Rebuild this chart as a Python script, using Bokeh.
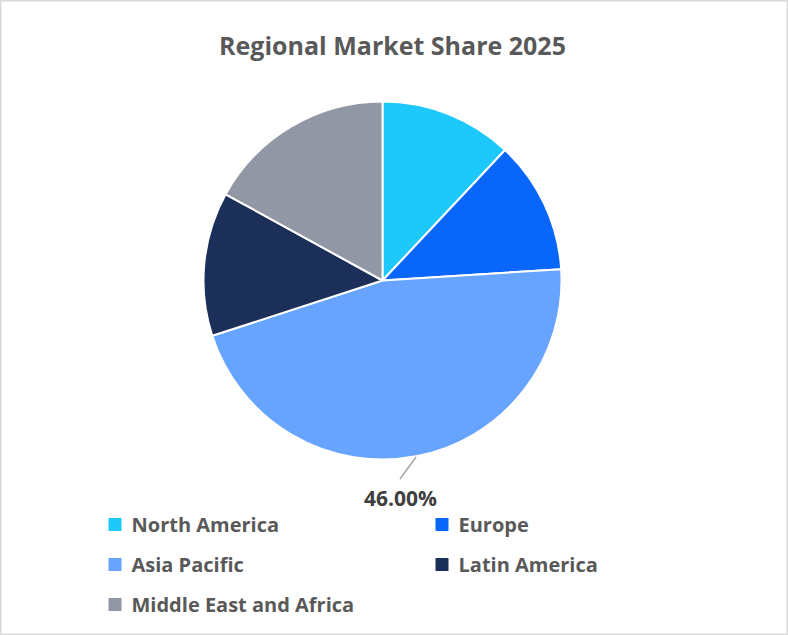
import numpy as np
from bokeh.plotting import figure
from bokeh.models import Range1d, ColumnDataSource
from bokeh.core.properties import value
from bokeh.embed import file_html
from bokeh.resources import INLINE

title_text = "Regional Market Share 2025"
categories = ["North America", "Europe", "Asia Pacific", "Latin America", "Middle East and Africa"]
shares = [12.0, 12.0, 46.0, 13.0, 17.0]
colors = ["#1DC8FB", "#0866FB", "#66A4FF", "#1C2F58", "#9197A4"]
labelled = ["Asia Pacific"]

W, H = 788, 635
FONT = "Open Sans"
TXT = "#595959"

def py(page_y):
    return H - page_y

def px(page_x):
    return page_x

p = figure(width=W, height=H, output_backend="svg", toolbar_location=None,
           x_range=Range1d(0, W), y_range=Range1d(0, H), min_border=0)
p.axis.visible = False
p.grid.visible = False
p.outline_line_color = "#D9D9D9"
p.outline_line_width = 2
p.background_fill_color = "white"
p.border_fill_color = "white"

vals = np.array(shares) / sum(shares)
cum = np.cumsum(vals)
prev = np.concatenate([[0], cum[:-1]])
start = np.pi / 2 - prev * 2 * np.pi
end = np.pi / 2 - cum * 2 * np.pi
cx, cy, R = px(382), py(280), 179

src = ColumnDataSource(dict(cat=categories, start=start, end=end, color=colors))
p.wedge(x=cx, y=cy, radius=R, start_angle="start", end_angle="end", direction="clock",
        fill_color="color", line_color="white", line_width=2, source=src)

# data label with leader line
for i, c in enumerate(categories):
    if c in labelled:
        p.segment(x0=[px(415.5)], y0=[py(456.5)], x1=[px(399.5)], y1=[py(478.5)],
                  line_color="#A6A6A6", line_width=1.5)
        p.text(x=[px(400)], y=[py(497)], text=[f"{shares[i]:.2f}%"],
               text_font=value(FONT), text_font_style="bold", text_font_size="21px",
               text_color="#404040", text_align="center", text_baseline="middle")

# title
p.text(x=[px(392)], y=[py(44)], text=[title_text], text_font=value(FONT),
       text_font_style="bold", text_font_size="25px", text_color=TXT,
       text_align="center", text_baseline="middle")

# legend
col_x = [108, 435]
row_y = [524, 564, 604]
for i, c in enumerate(categories):
    r, k = divmod(i, 2)
    mx = col_x[k] + 6.5
    my = row_y[r]
    p.scatter(x=[px(mx)], y=[py(my)], marker="square", size=13,
              fill_color=colors[i], line_color=None)
    p.text(x=[px(col_x[k] + 23)], y=[py(my)], text=[c], text_font=value(FONT),
           text_font_style="bold", text_font_size="20px", text_color=TXT,
           text_align="left", text_baseline="middle")

open("out.html", "w").write(file_html(p, INLINE))
